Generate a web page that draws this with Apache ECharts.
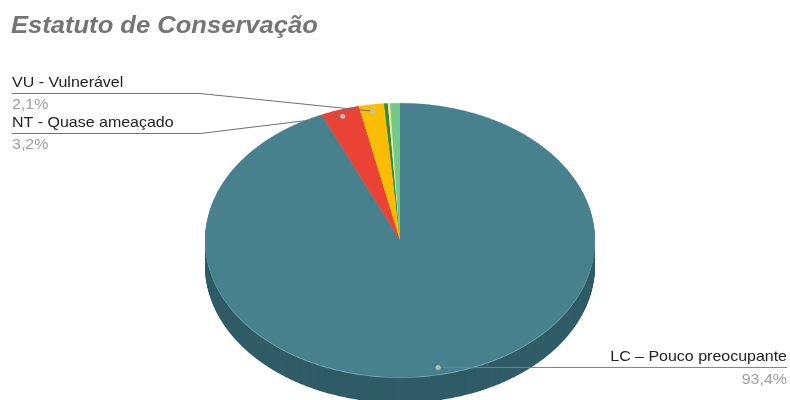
<!DOCTYPE html>
<html><head><meta charset="utf-8">
<script src="https://cdn.jsdelivr.net/npm/echarts@6/dist/echarts.min.js"></script>
<style>
html,body{margin:0;padding:0;background:#fff;}
#wrap{position:relative;width:790px;height:400px;overflow:hidden;background:#fff;}
#pie{position:absolute;left:0;top:0;width:790px;height:572px;transform-origin:0 0;}
#fg{position:absolute;left:0;top:0;width:790px;height:400px;}
</style></head><body>
<div id="wrap"><div id="pie"></div><div id="fg"></div></div>
<script>
const titleText = 'Estatuto de Conservação';
const categories = ['LC – Pouco preocupante', 'NT - Quase ameaçado', 'VU - Vulnerável', 'EN - Em perigo', 'CR - Criticamente em perigo', 'DD - Dados insuficientes'];
const values = [93.4, 3.2, 2.1, 0.3, 0.2, 0.8];
const labelledIdx = [0, 1, 2];
const topColors = ['#46818d', '#ea4335', '#fbbc04', '#2e8b3e', '#f1e48a', '#72c98a'];
const sideColors = ['#2f5c66', '#a8302a', '#b88a03', '#216630', '#b0a664', '#52925f'];
const rimColors = ['#7fb0ba', '#f08a80', '#fdd66a', '#6fb67c', '#f6eeb8', '#a6dcb4'];

// geometry of the tilted pie (screen px)
const CX = 400, CY = 240, RX = 195, TILT = 0.703, DEPTH = 26;
const RY = RX * TILT;
const STRETCH = 1.065;

const pieDiv = document.getElementById('pie');
pieDiv.style.transform = 'scaleY(' + TILT + ')';
pieDiv.style.height = Math.ceil(400 / TILT) + 'px';
const pieChart = echarts.init(pieDiv, null, {renderer: 'canvas'});

function pieLayer(offset, colors) {
  return {
    type: 'pie', silent: true, animation: false,
    center: [CX, CY / TILT + offset], radius: RX,
    startAngle: 90, clockwise: true,
    label: {show: false}, labelLine: {show: false},
    itemStyle: {borderWidth: 0},
    emphasis: {disabled: true},
    data: categories.map((c, i) => ({name: c, value: values[i], itemStyle: {color: colors[i]}}))
  };
}
const layers = [];
const depthU = Math.round(DEPTH / TILT);
for (let d = depthU; d >= 2; d--) layers.push(pieLayer(d, sideColors));
layers.push(pieLayer(1.2, rimColors));
layers.push(pieLayer(0, topColors));
pieChart.setOption({animation: false, series: layers});

// labels
const total = values.reduce((a, b) => a + b, 0);
const fmt = v => (Math.round(v / total * 1000) / 10).toFixed(1).replace('.', ',') + '%';
let acc = 0;
const anchors = values.map(v => {
  const mid = (acc + v / 2) / total * 2 * Math.PI;
  acc += v;
  return [CX + RX * 0.95 * Math.sin(mid), CY - RY * 0.95 * Math.cos(mid)];
});
const FS = 15;
const FONT = '"Liberation Sans", Arial, sans-serif';
const txt = (x, y, text, color, align, font) => ({
  type: 'text', silent: true, x: x, y: y, scaleX: STRETCH,
  style: {x: 0, y: 0, text: text, fill: color, font: font || (FS + 'px ' + FONT), align: align, verticalAlign: 'middle'}
});
const g = [];
g.push(txt(11, 35 - 24 * 0.35, titleText, '#757575', 'left', 'italic bold 24px ' + FONT));
const left = labelledIdx.filter(i => anchors[i][0] < CX).sort((a, b) => anchors[a][1] - anchors[b][1]);
const right = labelledIdx.filter(i => anchors[i][0] >= CX);
left.forEach((i, k) => {
  const base = 88 + k * 40;
  const [ax, ay] = anchors[i];
  g.push({type: 'polyline', silent: true, shape: {points: [[12, base + 5.5], [200, base + 5.5], [ax, ay]]}, style: {stroke: '#707070', lineWidth: 1, fill: null}});
  g.push({type: 'circle', silent: true, shape: {cx: ax, cy: ay, r: 2.5}, style: {fill: 'rgba(190,195,200,0.9)'}});
  g.push(txt(12, base - FS * 0.35, categories[i], '#222222', 'left'));
  g.push(txt(12, base + 22 - FS * 0.35, fmt(values[i]), '#9e9e9e', 'left'));
});
right.forEach(i => {
  const [ax, ay] = anchors[i];
  g.push({type: 'polyline', silent: true, shape: {points: [[ax, ay], [787, ay]]}, style: {stroke: '#808080', lineWidth: 1, fill: null}});
  g.push({type: 'circle', silent: true, shape: {cx: ax, cy: ay, r: 2.5}, style: {fill: 'rgba(190,195,200,0.9)'}});
  g.push(txt(787, ay - 5.5 - FS * 0.35, categories[i], '#222222', 'right'));
  g.push(txt(787, ay + 17.5 - FS * 0.35, fmt(values[i]), '#9e9e9e', 'right'));
});

const fg = echarts.init(document.getElementById('fg'), null, {renderer: 'canvas'});
fg.setOption({animation: false, graphic: g});
</script>
</body></html>
